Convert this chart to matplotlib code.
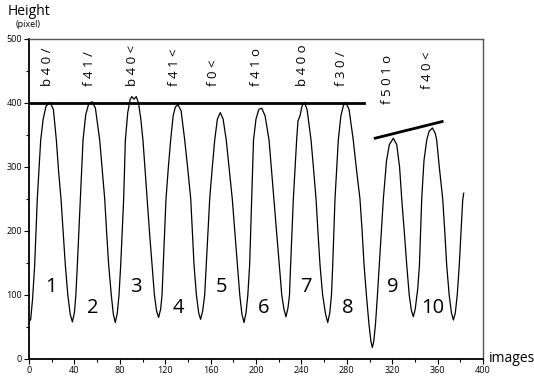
import matplotlib
matplotlib.use("Agg")
import matplotlib.pyplot as plt
from matplotlib.ticker import MultipleLocator

plt.rcParams['font.family'] = ['Open Sans', 'DejaVu Sans']

# curve (image index, height in pixel)
frames = [0, 1.5, 3.2, 5.0, 7.3, 10.3, 12.5, 15, 18.5, 21.5, 24.1, 26.0, 28.2, 30.2, 32.0, 34.2, 36.3,
          38.2, 40.0, 41.3, 42.6, 45.2, 47.6, 50, 52.5, 55.5, 58.5, 62.3, 64.5, 66.7, 68.5, 70.2,
          72.5, 74.3, 76.0, 77.8, 79.3, 80.8, 83.4, 84.9, 87, 89, 90.5, 92.5, 94.5, 96.5, 98.5,
          100.4, 102.3, 104.2, 106.3, 108.4, 110.5, 112.4, 114.2, 116.0, 117.2, 118.3, 120.7,
          122.8, 124.8, 127, 129, 131.3, 134, 137.2, 140, 142.5, 144, 145.4, 147.5, 149.5, 151.2,
          153, 154.8, 156.2, 159.2, 161.5, 163.6, 166, 168.5, 171, 173.8, 176.5, 179.1, 181.5,
          183.5, 185.7, 187.6, 189.4, 191.2, 192.8, 194.4, 196.2, 197.8, 200, 202.5, 205, 208,
          211.5, 213.7, 215.9, 218.3, 220.5, 222.7, 224.6, 226.4, 228.2, 229.5, 230.5, 232.9,
          234.5, 235.8, 237, 238.8, 240.5, 242.5, 245, 248.5, 250.8, 252.9, 254.7, 256.4, 258.7,
          261.3, 263.2, 265, 266.5, 267.6, 269.6, 272.5, 274.8, 277, 279, 282, 285.7, 288.6,
          291.6, 293.5, 295.2, 297.5, 299.5, 301.2, 302.5, 303.8, 305.3, 307, 308.6, 312.2, 315,
          317.5, 321, 324, 326.5, 328.4, 330.6, 332.8, 335, 336.9, 338.6, 340.3, 342.5, 344, 346,
          348, 350.4, 352.5, 355.5, 358, 359.2, 361.5, 364.5, 366.3, 368, 370.2, 372.2, 373.9,
          375.6, 377.3, 379.1, 382.1, 383]
height = [58, 62, 95, 147, 250, 342, 375, 395, 401, 390, 342, 295, 250, 195, 147, 100, 70,
          58, 72, 100, 147, 250, 342, 382, 398, 402, 392, 342, 295, 250, 195, 147,
          100, 70, 57, 72, 100, 147, 250, 342, 385, 405, 410, 406, 410, 400, 375,
          342, 295, 250, 195, 147, 100, 75, 65, 78, 100, 147, 250,
          300, 342, 380, 394, 397, 388, 342, 295, 250, 195, 147, 100, 72, 62,
          75, 100, 147, 250, 300, 342, 375, 385, 375, 342, 295, 250, 195,
          147, 100, 70, 57, 72, 100, 147, 250, 342, 375, 390, 392, 380,
          342, 295, 250, 195, 147, 100, 78, 66, 80, 100, 147, 250,
          300, 342, 372, 380, 395, 401, 390, 342, 295, 250, 195, 147, 100,
          70, 57, 72, 100, 147, 250, 342, 380, 396, 401, 390, 342, 295,
          250, 200, 147, 95, 55, 28, 18, 28, 55, 100, 147, 250, 310,
          335, 345, 335, 300, 250, 200, 147, 100, 76, 66, 78, 110, 147, 250,
          310, 342, 356, 361, 352, 342, 300, 250, 200, 147, 100, 72, 61,
          72, 100, 147, 248, 259]

# reference lines
flat_x = [0, 295]
flat_y = [400, 400]
slope_x = [305, 364]
slope_y = [345, 371]

# rotated codes above the peaks
code_labels = ["b 4 0 /", "f 4 1 /", "b 4 0 <", "f 4 1 <", "f 0 <", "f 4 1 o",
               "b 4 0 o", "f 3 0 /", "f 5 0 1 o", "f 4 0 <"]
code_x = [15.9, 53.7, 91.6, 128.6, 162.4, 200.7, 241, 275.6, 316, 351.5]
code_y = [427, 427, 427, 427, 427, 427, 427, 427, 399, 422]

# jump numbers
num_labels = ["1", "2", "3", "4", "5", "6", "7", "8", "9", "10"]
num_x = [19.7, 56.4, 94, 131.9, 169.5, 207, 244, 280.5, 320.4, 355.7]
num_y = [113, 80, 113, 80, 113, 80, 113, 80, 113, 80]

fig = plt.figure(figsize=(5.34, 3.79), dpi=100)
ax = fig.add_axes([29/534, 20/379, 454/534, 320/379])

ax.plot(frames, height, color='black', lw=0.9)
ax.plot(flat_x, flat_y, color='black', lw=2)
ax.plot(slope_x, slope_y, color='black', lw=2)

for lab, x, y in zip(code_labels, code_x, code_y):
    ax.text(x, y, lab, rotation=90, ha='center', va='bottom', fontsize=9.5)

for lab, x, y in zip(num_labels, num_x, num_y):
    ax.text(x, y, lab, ha='center', va='center', fontsize=14.5)

ax.set_xlim(0, 400)
ax.set_ylim(0, 500)
ax.xaxis.set_major_locator(MultipleLocator(40))
ax.xaxis.set_minor_locator(MultipleLocator(20))
ax.yaxis.set_major_locator(MultipleLocator(100))
ax.yaxis.set_minor_locator(MultipleLocator(50))
ax.tick_params(which='major', length=3.5, width=0.8, labelsize=6.5, pad=1.5)
ax.tick_params(which='minor', length=2, width=0.8)

for side in ['left', 'bottom']:
    ax.spines[side].set_linewidth(1.3)
for side in ['top', 'right']:
    ax.spines[side].set_linewidth(1)
    ax.spines[side].set_color('#555555')

fig.text(8/534, 1 - 4/379, "Height", ha='left', va='top', fontsize=10)
fig.text(28/534, 1 - 20/379, "(pixel)", ha='center', va='top', fontsize=6.5)
fig.text(489/534, 21/379, "images", ha='left', va='center', fontsize=10)

plt.savefig("out.png", dpi=100)
